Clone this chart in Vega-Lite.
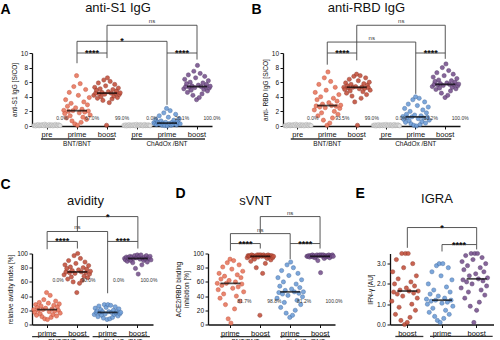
{
"$schema":"https://vega.github.io/schema/vega-lite/v6.json",
"background":"white",
"padding":{"left":0,"top":2,"right":0,"bottom":0},
"config":{
 "font":"Liberation Sans",
 "view":{"stroke":null},
 "axis":{"grid":false,"domainColor":"#111","domainWidth":1.3,"tickColor":"#111","tickWidth":1,"tickSize":3,"labelFontSize":6.5,"labelColor":"#111","titleFontSize":6.5,"titleFontWeight":"normal","titleColor":"#111","labelPadding":1.5,"titlePadding":3},
 "axisY":{"tickCount":6},
 "axisX":{"labelAngle":0,"labelFontSize":7.5,"titleFontSize":14,"titleFontWeight":"bold","titleColor":"#000","titleAlign":"left","titleBaseline":"top","titleAngle":0},
 "title":{"fontSize":13,"fontWeight":"normal","color":"#111","anchor":"middle","offset":2}
},
"datasets":{
"pts":[
{"p":"A","c":"B pre","v":0.05},{"p":"A","c":"B pre","v":0.1},{"p":"A","c":"B pre","v":0.0},{"p":"A","c":"B pre","v":0.15},{"p":"A","c":"B pre","v":0.08},{"p":"A","c":"B pre","v":0.2},{"p":"A","c":"B pre","v":0.02},{"p":"A","c":"B pre","v":0.12},{"p":"A","c":"B pre","v":0.06},{"p":"A","c":"B pre","v":0.18},{"p":"A","c":"B pre","v":0.1},{"p":"A","c":"B pre","v":0.03},{"p":"A","c":"B pre","v":0.25},{"p":"A","c":"B pre","v":0.07},{"p":"A","c":"B pre","v":0.14},{"p":"A","c":"B pre","v":0.0},{"p":"A","c":"B pre","v":0.09},{"p":"A","c":"B pre","v":0.2},{"p":"A","c":"B pre","v":0.04},{"p":"A","c":"B pre","v":0.11},{"p":"A","c":"B pre","v":0.16},{"p":"A","c":"B pre","v":0.01},{"p":"A","c":"B pre","v":0.13},{"p":"A","c":"B pre","v":0.06},{"p":"A","c":"B pre","v":0.22},{"p":"A","c":"B pre","v":0.08},{"p":"A","c":"B pre","v":0.03},{"p":"A","c":"B pre","v":0.17},{"p":"A","c":"B pre","v":0.1},{"p":"A","c":"B pre","v":0.05},
{"p":"A","c":"B prime","v":2.15},{"p":"A","c":"B prime","v":1.7},{"p":"A","c":"B prime","v":3.6},{"p":"A","c":"B prime","v":1.1},{"p":"A","c":"B prime","v":2.7},{"p":"A","c":"B prime","v":2.0},{"p":"A","c":"B prime","v":4.6},{"p":"A","c":"B prime","v":1.4},{"p":"A","c":"B prime","v":3.1},{"p":"A","c":"B prime","v":0.7},{"p":"A","c":"B prime","v":2.1},{"p":"A","c":"B prime","v":5.4},{"p":"A","c":"B prime","v":0.3},{"p":"A","c":"B prime","v":2.5},{"p":"A","c":"B prime","v":6.9},{"p":"A","c":"B prime","v":0.1},{"p":"A","c":"B prime","v":4.2},{"p":"A","c":"B prime","v":1.8},{"p":"A","c":"B prime","v":5.8},{"p":"A","c":"B prime","v":0.5},{"p":"A","c":"B prime","v":2.3},{"p":"A","c":"B prime","v":1.2},{"p":"A","c":"B prime","v":3.3},{"p":"A","c":"B prime","v":1.9},{"p":"A","c":"B prime","v":5.0},{"p":"A","c":"B prime","v":0.9},{"p":"A","c":"B prime","v":2.9},{"p":"A","c":"B prime","v":2.05},{"p":"A","c":"B prime","v":3.9},{"p":"A","c":"B prime","v":1.5},
{"p":"A","c":"B boost","v":4.2},{"p":"A","c":"B boost","v":5.3},{"p":"A","c":"B boost","v":4.5},{"p":"A","c":"B boost","v":4.9},{"p":"A","c":"B boost","v":3.8},{"p":"A","c":"B boost","v":5.9},{"p":"A","c":"B boost","v":4.4},{"p":"A","c":"B boost","v":5.1},{"p":"A","c":"B boost","v":4.0},{"p":"A","c":"B boost","v":4.6},{"p":"A","c":"B boost","v":3.5},{"p":"A","c":"B boost","v":6.3},{"p":"A","c":"B boost","v":4.35},{"p":"A","c":"B boost","v":5.5},{"p":"A","c":"B boost","v":0.1},{"p":"A","c":"B boost","v":6.6},{"p":"A","c":"B boost","v":4.7},{"p":"A","c":"B boost","v":3.2},{"p":"A","c":"B boost","v":6.1},{"p":"A","c":"B boost","v":4.5},{"p":"A","c":"B boost","v":3.7},{"p":"A","c":"B boost","v":5.0},{"p":"A","c":"B boost","v":4.1},{"p":"A","c":"B boost","v":5.7},{"p":"A","c":"B boost","v":4.45},{"p":"A","c":"B boost","v":4.8},{"p":"A","c":"B boost","v":3.9},{"p":"A","c":"B boost","v":5.2},{"p":"A","c":"B boost","v":4.3},{"p":"A","c":"B boost","v":4.55},
{"p":"A","c":"C pre","v":0.1},{"p":"A","c":"C pre","v":0.04},{"p":"A","c":"C pre","v":0.16},{"p":"A","c":"C pre","v":0.0},{"p":"A","c":"C pre","v":0.12},{"p":"A","c":"C pre","v":0.07},{"p":"A","c":"C pre","v":0.2},{"p":"A","c":"C pre","v":0.02},{"p":"A","c":"C pre","v":0.09},{"p":"A","c":"C pre","v":0.14},{"p":"A","c":"C pre","v":0.05},{"p":"A","c":"C pre","v":0.18},{"p":"A","c":"C pre","v":0.11},{"p":"A","c":"C pre","v":0.0},{"p":"A","c":"C pre","v":0.23},{"p":"A","c":"C pre","v":0.06},{"p":"A","c":"C pre","v":0.13},{"p":"A","c":"C pre","v":0.03},{"p":"A","c":"C pre","v":0.19},{"p":"A","c":"C pre","v":0.08},{"p":"A","c":"C pre","v":0.15},{"p":"A","c":"C pre","v":0.01},{"p":"A","c":"C pre","v":0.1},{"p":"A","c":"C pre","v":0.21},{"p":"A","c":"C pre","v":0.04},{"p":"A","c":"C pre","v":0.12},{"p":"A","c":"C pre","v":0.06},{"p":"A","c":"C pre","v":0.17},{"p":"A","c":"C pre","v":0.09},{"p":"A","c":"C pre","v":0.02},
{"p":"A","c":"C prime","v":0.45},{"p":"A","c":"C prime","v":0.3},{"p":"A","c":"C prime","v":0.9},{"p":"A","c":"C prime","v":0.2},{"p":"A","c":"C prime","v":0.55},{"p":"A","c":"C prime","v":0.4},{"p":"A","c":"C prime","v":1.4},{"p":"A","c":"C prime","v":0.25},{"p":"A","c":"C prime","v":0.7},{"p":"A","c":"C prime","v":0.1},{"p":"A","c":"C prime","v":0.4},{"p":"A","c":"C prime","v":1.8},{"p":"A","c":"C prime","v":0.05},{"p":"A","c":"C prime","v":0.5},{"p":"A","c":"C prime","v":2.4},{"p":"A","c":"C prime","v":0.0},{"p":"A","c":"C prime","v":1.2},{"p":"A","c":"C prime","v":0.35},{"p":"A","c":"C prime","v":2.1},{"p":"A","c":"C prime","v":0.1},{"p":"A","c":"C prime","v":0.5},{"p":"A","c":"C prime","v":0.2},{"p":"A","c":"C prime","v":0.8},{"p":"A","c":"C prime","v":0.35},{"p":"A","c":"C prime","v":1.6},{"p":"A","c":"C prime","v":0.15},{"p":"A","c":"C prime","v":0.6},{"p":"A","c":"C prime","v":0.4},{"p":"A","c":"C prime","v":1.0},{"p":"A","c":"C prime","v":0.3},
{"p":"A","c":"C boost","v":5.1},{"p":"A","c":"C boost","v":6.4},{"p":"A","c":"C boost","v":5.4},{"p":"A","c":"C boost","v":5.8},{"p":"A","c":"C boost","v":4.6},{"p":"A","c":"C boost","v":7.0},{"p":"A","c":"C boost","v":5.3},{"p":"A","c":"C boost","v":6.0},{"p":"A","c":"C boost","v":4.9},{"p":"A","c":"C boost","v":5.5},{"p":"A","c":"C boost","v":4.2},{"p":"A","c":"C boost","v":7.5},{"p":"A","c":"C boost","v":5.25},{"p":"A","c":"C boost","v":6.6},{"p":"A","c":"C boost","v":3.6},{"p":"A","c":"C boost","v":8.3},{"p":"A","c":"C boost","v":5.6},{"p":"A","c":"C boost","v":3.9},{"p":"A","c":"C boost","v":7.2},{"p":"A","c":"C boost","v":5.4},{"p":"A","c":"C boost","v":4.4},{"p":"A","c":"C boost","v":5.9},{"p":"A","c":"C boost","v":5.0},{"p":"A","c":"C boost","v":6.8},{"p":"A","c":"C boost","v":5.35},{"p":"A","c":"C boost","v":5.7},{"p":"A","c":"C boost","v":4.8},{"p":"A","c":"C boost","v":6.2},{"p":"A","c":"C boost","v":5.2},{"p":"A","c":"C boost","v":5.45},
{"p":"B","c":"B pre","v":0.05},{"p":"B","c":"B pre","v":0.1},{"p":"B","c":"B pre","v":0.0},{"p":"B","c":"B pre","v":0.15},{"p":"B","c":"B pre","v":0.08},{"p":"B","c":"B pre","v":0.2},{"p":"B","c":"B pre","v":0.02},{"p":"B","c":"B pre","v":0.12},{"p":"B","c":"B pre","v":0.06},{"p":"B","c":"B pre","v":0.18},{"p":"B","c":"B pre","v":0.1},{"p":"B","c":"B pre","v":0.03},{"p":"B","c":"B pre","v":0.25},{"p":"B","c":"B pre","v":0.07},{"p":"B","c":"B pre","v":0.14},{"p":"B","c":"B pre","v":0.0},{"p":"B","c":"B pre","v":0.09},{"p":"B","c":"B pre","v":0.2},{"p":"B","c":"B pre","v":0.04},{"p":"B","c":"B pre","v":0.11},{"p":"B","c":"B pre","v":0.16},{"p":"B","c":"B pre","v":0.01},{"p":"B","c":"B pre","v":0.13},{"p":"B","c":"B pre","v":0.06},{"p":"B","c":"B pre","v":0.22},{"p":"B","c":"B pre","v":0.08},{"p":"B","c":"B pre","v":0.03},{"p":"B","c":"B pre","v":0.17},{"p":"B","c":"B pre","v":0.1},{"p":"B","c":"B pre","v":0.05},
{"p":"B","c":"B prime","v":2.2},{"p":"B","c":"B prime","v":4.6},{"p":"B","c":"B prime","v":2.75},{"p":"B","c":"B prime","v":3.6},{"p":"B","c":"B prime","v":1.4},{"p":"B","c":"B prime","v":5.7},{"p":"B","c":"B prime","v":2.6},{"p":"B","c":"B prime","v":4.0},{"p":"B","c":"B prime","v":1.8},{"p":"B","c":"B prime","v":3.0},{"p":"B","c":"B prime","v":0.8},{"p":"B","c":"B prime","v":6.6},{"p":"B","c":"B prime","v":2.5},{"p":"B","c":"B prime","v":4.9},{"p":"B","c":"B prime","v":0.1},{"p":"B","c":"B prime","v":7.4},{"p":"B","c":"B prime","v":3.2},{"p":"B","c":"B prime","v":0.4},{"p":"B","c":"B prime","v":6.1},{"p":"B","c":"B prime","v":2.8},{"p":"B","c":"B prime","v":1.1},{"p":"B","c":"B prime","v":3.8},{"p":"B","c":"B prime","v":2.0},{"p":"B","c":"B prime","v":5.3},{"p":"B","c":"B prime","v":2.7},{"p":"B","c":"B prime","v":3.4},{"p":"B","c":"B prime","v":1.6},{"p":"B","c":"B prime","v":4.3},{"p":"B","c":"B prime","v":2.4},{"p":"B","c":"B prime","v":2.85},
{"p":"B","c":"B boost","v":5.3},{"p":"B","c":"B boost","v":5.0},{"p":"B","c":"B boost","v":5.9},{"p":"B","c":"B boost","v":4.5},{"p":"B","c":"B boost","v":5.5},{"p":"B","c":"B boost","v":5.2},{"p":"B","c":"B boost","v":6.4},{"p":"B","c":"B boost","v":4.8},{"p":"B","c":"B boost","v":5.7},{"p":"B","c":"B boost","v":4.1},{"p":"B","c":"B boost","v":5.3},{"p":"B","c":"B boost","v":6.8},{"p":"B","c":"B boost","v":3.3},{"p":"B","c":"B boost","v":5.4},{"p":"B","c":"B boost","v":7.1},{"p":"B","c":"B boost","v":0.1},{"p":"B","c":"B boost","v":6.2},{"p":"B","c":"B boost","v":5.1},{"p":"B","c":"B boost","v":6.9},{"p":"B","c":"B boost","v":3.8},{"p":"B","c":"B boost","v":5.35},{"p":"B","c":"B boost","v":4.7},{"p":"B","c":"B boost","v":5.8},{"p":"B","c":"B boost","v":5.15},{"p":"B","c":"B boost","v":6.6},{"p":"B","c":"B boost","v":4.3},{"p":"B","c":"B boost","v":5.6},{"p":"B","c":"B boost","v":5.25},{"p":"B","c":"B boost","v":6.0},{"p":"B","c":"B boost","v":4.9},
{"p":"B","c":"C pre","v":0.1},{"p":"B","c":"C pre","v":0.04},{"p":"B","c":"C pre","v":0.16},{"p":"B","c":"C pre","v":0.0},{"p":"B","c":"C pre","v":0.12},{"p":"B","c":"C pre","v":0.07},{"p":"B","c":"C pre","v":0.2},{"p":"B","c":"C pre","v":0.02},{"p":"B","c":"C pre","v":0.09},{"p":"B","c":"C pre","v":0.14},{"p":"B","c":"C pre","v":0.05},{"p":"B","c":"C pre","v":0.18},{"p":"B","c":"C pre","v":0.11},{"p":"B","c":"C pre","v":0.0},{"p":"B","c":"C pre","v":0.23},{"p":"B","c":"C pre","v":0.06},{"p":"B","c":"C pre","v":0.13},{"p":"B","c":"C pre","v":0.03},{"p":"B","c":"C pre","v":0.19},{"p":"B","c":"C pre","v":0.08},{"p":"B","c":"C pre","v":0.15},{"p":"B","c":"C pre","v":0.01},{"p":"B","c":"C pre","v":0.1},{"p":"B","c":"C pre","v":0.21},{"p":"B","c":"C pre","v":0.04},{"p":"B","c":"C pre","v":0.12},{"p":"B","c":"C pre","v":0.06},{"p":"B","c":"C pre","v":0.17},{"p":"B","c":"C pre","v":0.09},{"p":"B","c":"C pre","v":0.02},
{"p":"B","c":"C prime","v":1.3},{"p":"B","c":"C prime","v":0.9},{"p":"B","c":"C prime","v":2.4},{"p":"B","c":"C prime","v":0.5},{"p":"B","c":"C prime","v":1.6},{"p":"B","c":"C prime","v":1.15},{"p":"B","c":"C prime","v":3.0},{"p":"B","c":"C prime","v":0.7},{"p":"B","c":"C prime","v":2.0},{"p":"B","c":"C prime","v":0.3},{"p":"B","c":"C prime","v":1.25},{"p":"B","c":"C prime","v":3.6},{"p":"B","c":"C prime","v":0.1},{"p":"B","c":"C prime","v":1.5},{"p":"B","c":"C prime","v":4.0},{"p":"B","c":"C prime","v":0.0},{"p":"B","c":"C prime","v":2.8},{"p":"B","c":"C prime","v":1.0},{"p":"B","c":"C prime","v":3.8},{"p":"B","c":"C prime","v":0.2},{"p":"B","c":"C prime","v":1.4},{"p":"B","c":"C prime","v":0.6},{"p":"B","c":"C prime","v":2.2},{"p":"B","c":"C prime","v":1.1},{"p":"B","c":"C prime","v":3.3},{"p":"B","c":"C prime","v":0.4},{"p":"B","c":"C prime","v":1.8},{"p":"B","c":"C prime","v":1.2},{"p":"B","c":"C prime","v":2.6},{"p":"B","c":"C prime","v":0.8},
{"p":"B","c":"C boost","v":5.4},{"p":"B","c":"C boost","v":6.7},{"p":"B","c":"C boost","v":5.7},{"p":"B","c":"C boost","v":6.1},{"p":"B","c":"C boost","v":5.0},{"p":"B","c":"C boost","v":7.3},{"p":"B","c":"C boost","v":5.6},{"p":"B","c":"C boost","v":6.3},{"p":"B","c":"C boost","v":5.2},{"p":"B","c":"C boost","v":5.8},{"p":"B","c":"C boost","v":4.5},{"p":"B","c":"C boost","v":8.0},{"p":"B","c":"C boost","v":5.55},{"p":"B","c":"C boost","v":6.9},{"p":"B","c":"C boost","v":3.9},{"p":"B","c":"C boost","v":8.5},{"p":"B","c":"C boost","v":5.9},{"p":"B","c":"C boost","v":4.2},{"p":"B","c":"C boost","v":7.6},{"p":"B","c":"C boost","v":5.7},{"p":"B","c":"C boost","v":4.8},{"p":"B","c":"C boost","v":6.2},{"p":"B","c":"C boost","v":5.3},{"p":"B","c":"C boost","v":7.1},{"p":"B","c":"C boost","v":5.65},{"p":"B","c":"C boost","v":6.0},{"p":"B","c":"C boost","v":5.1},{"p":"B","c":"C boost","v":6.5},{"p":"B","c":"C boost","v":5.5},{"p":"B","c":"C boost","v":5.75},
{"p":"C","c":"B prime","v":21},{"p":"C","c":"B prime","v":17},{"p":"C","c":"B prime","v":28},{"p":"C","c":"B prime","v":13},{"p":"C","c":"B prime","v":24},{"p":"C","c":"B prime","v":20},{"p":"C","c":"B prime","v":31},{"p":"C","c":"B prime","v":15},{"p":"C","c":"B prime","v":26},{"p":"C","c":"B prime","v":11},{"p":"C","c":"B prime","v":21},{"p":"C","c":"B prime","v":35},{"p":"C","c":"B prime","v":8},{"p":"C","c":"B prime","v":23},{"p":"C","c":"B prime","v":45},{"p":"C","c":"B prime","v":7},{"p":"C","c":"B prime","v":30},{"p":"C","c":"B prime","v":18},{"p":"C","c":"B prime","v":41},{"p":"C","c":"B prime","v":10},{"p":"C","c":"B prime","v":22},{"p":"C","c":"B prime","v":14},{"p":"C","c":"B prime","v":27},{"p":"C","c":"B prime","v":19},{"p":"C","c":"B prime","v":33},{"p":"C","c":"B prime","v":12},{"p":"C","c":"B prime","v":25},{"p":"C","c":"B prime","v":20},{"p":"C","c":"B prime","v":29},{"p":"C","c":"B prime","v":16},
{"p":"C","c":"B boost","v":70},{"p":"C","c":"B boost","v":84},{"p":"C","c":"B boost","v":74},{"p":"C","c":"B boost","v":79},{"p":"C","c":"B boost","v":64},{"p":"C","c":"B boost","v":90},{"p":"C","c":"B boost","v":73},{"p":"C","c":"B boost","v":81},{"p":"C","c":"B boost","v":67},{"p":"C","c":"B boost","v":76},{"p":"C","c":"B boost","v":60},{"p":"C","c":"B boost","v":97},{"p":"C","c":"B boost","v":72},{"p":"C","c":"B boost","v":86},{"p":"C","c":"B boost","v":45},{"p":"C","c":"B boost","v":100},{"p":"C","c":"B boost","v":77},{"p":"C","c":"B boost","v":58},{"p":"C","c":"B boost","v":93},{"p":"C","c":"B boost","v":74},{"p":"C","c":"B boost","v":62},{"p":"C","c":"B boost","v":80},{"p":"C","c":"B boost","v":68},{"p":"C","c":"B boost","v":88},{"p":"C","c":"B boost","v":73},{"p":"C","c":"B boost","v":78},{"p":"C","c":"B boost","v":66},{"p":"C","c":"B boost","v":83},{"p":"C","c":"B boost","v":71},{"p":"C","c":"B boost","v":75},
{"p":"C","c":"C prime","v":14},{"p":"C","c":"C prime","v":23},{"p":"C","c":"C prime","v":17},{"p":"C","c":"C prime","v":19},{"p":"C","c":"C prime","v":11},{"p":"C","c":"C prime","v":26},{"p":"C","c":"C prime","v":16},{"p":"C","c":"C prime","v":21},{"p":"C","c":"C prime","v":13},{"p":"C","c":"C prime","v":18},{"p":"C","c":"C prime","v":9},{"p":"C","c":"C prime","v":28},{"p":"C","c":"C prime","v":15},{"p":"C","c":"C prime","v":24},{"p":"C","c":"C prime","v":7},{"p":"C","c":"C prime","v":28},{"p":"C","c":"C prime","v":18},{"p":"C","c":"C prime","v":8},{"p":"C","c":"C prime","v":27},{"p":"C","c":"C prime","v":17},{"p":"C","c":"C prime","v":10},{"p":"C","c":"C prime","v":20},{"p":"C","c":"C prime","v":14},{"p":"C","c":"C prime","v":25},{"p":"C","c":"C prime","v":16},{"p":"C","c":"C prime","v":19},{"p":"C","c":"C prime","v":12},{"p":"C","c":"C prime","v":22},{"p":"C","c":"C prime","v":15},{"p":"C","c":"C prime","v":17},
{"p":"C","c":"C boost","v":93},{"p":"C","c":"C boost","v":91},{"p":"C","c":"C boost","v":95},{"p":"C","c":"C boost","v":89},{"p":"C","c":"C boost","v":94},{"p":"C","c":"C boost","v":92},{"p":"C","c":"C boost","v":96},{"p":"C","c":"C boost","v":90},{"p":"C","c":"C boost","v":95},{"p":"C","c":"C boost","v":87},{"p":"C","c":"C boost","v":93},{"p":"C","c":"C boost","v":97},{"p":"C","c":"C boost","v":79},{"p":"C","c":"C boost","v":94},{"p":"C","c":"C boost","v":98},{"p":"C","c":"C boost","v":71},{"p":"C","c":"C boost","v":96},{"p":"C","c":"C boost","v":92},{"p":"C","c":"C boost","v":98},{"p":"C","c":"C boost","v":84},{"p":"C","c":"C boost","v":93},{"p":"C","c":"C boost","v":90},{"p":"C","c":"C boost","v":95},{"p":"C","c":"C boost","v":92},{"p":"C","c":"C boost","v":97},{"p":"C","c":"C boost","v":88},{"p":"C","c":"C boost","v":94},{"p":"C","c":"C boost","v":93},{"p":"C","c":"C boost","v":96},{"p":"C","c":"C boost","v":91},
{"p":"D","c":"B prime","v":58},{"p":"D","c":"B prime","v":49},{"p":"D","c":"B prime","v":72},{"p":"D","c":"B prime","v":37},{"p":"D","c":"B prime","v":64},{"p":"D","c":"B prime","v":55},{"p":"D","c":"B prime","v":81},{"p":"D","c":"B prime","v":43},{"p":"D","c":"B prime","v":68},{"p":"D","c":"B prime","v":28},{"p":"D","c":"B prime","v":58},{"p":"D","c":"B prime","v":87},{"p":"D","c":"B prime","v":8},{"p":"D","c":"B prime","v":62},{"p":"D","c":"B prime","v":92},{"p":"D","c":"B prime","v":2},{"p":"D","c":"B prime","v":78},{"p":"D","c":"B prime","v":51},{"p":"D","c":"B prime","v":90},{"p":"D","c":"B prime","v":22},{"p":"D","c":"B prime","v":60},{"p":"D","c":"B prime","v":40},{"p":"D","c":"B prime","v":70},{"p":"D","c":"B prime","v":53},{"p":"D","c":"B prime","v":84},{"p":"D","c":"B prime","v":33},{"p":"D","c":"B prime","v":66},{"p":"D","c":"B prime","v":57},{"p":"D","c":"B prime","v":75},{"p":"D","c":"B prime","v":46},
{"p":"D","c":"B boost","v":94},{"p":"D","c":"B boost","v":97},{"p":"D","c":"B boost","v":96},{"p":"D","c":"B boost","v":97},{"p":"D","c":"B boost","v":89},{"p":"D","c":"B boost","v":98},{"p":"D","c":"B boost","v":95},{"p":"D","c":"B boost","v":97},{"p":"D","c":"B boost","v":92},{"p":"D","c":"B boost","v":96},{"p":"D","c":"B boost","v":80},{"p":"D","c":"B boost","v":98},{"p":"D","c":"B boost","v":95},{"p":"D","c":"B boost","v":98},{"p":"D","c":"B boost","v":13},{"p":"D","c":"B boost","v":98},{"p":"D","c":"B boost","v":96},{"p":"D","c":"B boost","v":72},{"p":"D","c":"B boost","v":98},{"p":"D","c":"B boost","v":96},{"p":"D","c":"B boost","v":86},{"p":"D","c":"B boost","v":97},{"p":"D","c":"B boost","v":93},{"p":"D","c":"B boost","v":98},{"p":"D","c":"B boost","v":95},{"p":"D","c":"B boost","v":97},{"p":"D","c":"B boost","v":91},{"p":"D","c":"B boost","v":97},{"p":"D","c":"B boost","v":94},{"p":"D","c":"B boost","v":96},
{"p":"D","c":"C prime","v":37},{"p":"D","c":"C prime","v":66},{"p":"D","c":"C prime","v":45},{"p":"D","c":"C prime","v":54},{"p":"D","c":"C prime","v":24},{"p":"D","c":"C prime","v":76},{"p":"D","c":"C prime","v":43},{"p":"D","c":"C prime","v":60},{"p":"D","c":"C prime","v":31},{"p":"D","c":"C prime","v":48},{"p":"D","c":"C prime","v":16},{"p":"D","c":"C prime","v":84},{"p":"D","c":"C prime","v":41},{"p":"D","c":"C prime","v":69},{"p":"D","c":"C prime","v":10},{"p":"D","c":"C prime","v":88},{"p":"D","c":"C prime","v":50},{"p":"D","c":"C prime","v":13},{"p":"D","c":"C prime","v":80},{"p":"D","c":"C prime","v":46},{"p":"D","c":"C prime","v":20},{"p":"D","c":"C prime","v":57},{"p":"D","c":"C prime","v":34},{"p":"D","c":"C prime","v":72},{"p":"D","c":"C prime","v":44},{"p":"D","c":"C prime","v":52},{"p":"D","c":"C prime","v":28},{"p":"D","c":"C prime","v":63},{"p":"D","c":"C prime","v":39},{"p":"D","c":"C prime","v":46},
{"p":"D","c":"C boost","v":96},{"p":"D","c":"C boost","v":96},{"p":"D","c":"C boost","v":97},{"p":"D","c":"C boost","v":95},{"p":"D","c":"C boost","v":97},{"p":"D","c":"C boost","v":96},{"p":"D","c":"C boost","v":98},{"p":"D","c":"C boost","v":95},{"p":"D","c":"C boost","v":97},{"p":"D","c":"C boost","v":94},{"p":"D","c":"C boost","v":96},{"p":"D","c":"C boost","v":98},{"p":"D","c":"C boost","v":90},{"p":"D","c":"C boost","v":97},{"p":"D","c":"C boost","v":98},{"p":"D","c":"C boost","v":73},{"p":"D","c":"C boost","v":98},{"p":"D","c":"C boost","v":96},{"p":"D","c":"C boost","v":98},{"p":"D","c":"C boost","v":93},{"p":"D","c":"C boost","v":97},{"p":"D","c":"C boost","v":95},{"p":"D","c":"C boost","v":97},{"p":"D","c":"C boost","v":96},{"p":"D","c":"C boost","v":98},{"p":"D","c":"C boost","v":94},{"p":"D","c":"C boost","v":97},{"p":"D","c":"C boost","v":96},{"p":"D","c":"C boost","v":98},{"p":"D","c":"C boost","v":96},
{"p":"E","c":"B boost","v":1.15},{"p":"E","c":"B boost","v":2.6},{"p":"E","c":"B boost","v":1.6},{"p":"E","c":"B boost","v":2.0},{"p":"E","c":"B boost","v":0.5},{"p":"E","c":"B boost","v":3.2},{"p":"E","c":"B boost","v":1.5},{"p":"E","c":"B boost","v":2.25},{"p":"E","c":"B boost","v":0.85},{"p":"E","c":"B boost","v":1.7},{"p":"E","c":"B boost","v":0.2},{"p":"E","c":"B boost","v":3.5},{"p":"E","c":"B boost","v":1.4},{"p":"E","c":"B boost","v":2.8},{"p":"E","c":"B boost","v":0.0},{"p":"E","c":"B boost","v":3.5},{"p":"E","c":"B boost","v":1.8},{"p":"E","c":"B boost","v":0.1},{"p":"E","c":"B boost","v":3.5},{"p":"E","c":"B boost","v":1.65},{"p":"E","c":"B boost","v":0.35},{"p":"E","c":"B boost","v":2.1},{"p":"E","c":"B boost","v":1.0},{"p":"E","c":"B boost","v":3.0},{"p":"E","c":"B boost","v":1.55},{"p":"E","c":"B boost","v":1.9},{"p":"E","c":"B boost","v":0.7},{"p":"E","c":"B boost","v":2.4},{"p":"E","c":"B boost","v":1.3},{"p":"E","c":"B boost","v":1.65},
{"p":"E","c":"C prime","v":1.25},{"p":"E","c":"C prime","v":1.0},{"p":"E","c":"C prime","v":2.0},{"p":"E","c":"C prime","v":0.6},{"p":"E","c":"C prime","v":1.5},{"p":"E","c":"C prime","v":1.15},{"p":"E","c":"C prime","v":2.6},{"p":"E","c":"C prime","v":0.8},{"p":"E","c":"C prime","v":1.7},{"p":"E","c":"C prime","v":0.4},{"p":"E","c":"C prime","v":1.2},{"p":"E","c":"C prime","v":2.9},{"p":"E","c":"C prime","v":0.2},{"p":"E","c":"C prime","v":1.4},{"p":"E","c":"C prime","v":3.0},{"p":"E","c":"C prime","v":0.1},{"p":"E","c":"C prime","v":2.4},{"p":"E","c":"C prime","v":1.05},{"p":"E","c":"C prime","v":3.0},{"p":"E","c":"C prime","v":0.3},{"p":"E","c":"C prime","v":1.3},{"p":"E","c":"C prime","v":0.7},{"p":"E","c":"C prime","v":1.85},{"p":"E","c":"C prime","v":1.1},{"p":"E","c":"C prime","v":2.8},{"p":"E","c":"C prime","v":0.5},{"p":"E","c":"C prime","v":1.6},{"p":"E","c":"C prime","v":1.2},{"p":"E","c":"C prime","v":2.2},{"p":"E","c":"C prime","v":0.9},
{"p":"E","c":"C boost","v":1.8},{"p":"E","c":"C boost","v":3.1},{"p":"E","c":"C boost","v":2.2},{"p":"E","c":"C boost","v":2.7},{"p":"E","c":"C boost","v":1.3},{"p":"E","c":"C boost","v":3.4},{"p":"E","c":"C boost","v":2.1},{"p":"E","c":"C boost","v":2.9},{"p":"E","c":"C boost","v":1.6},{"p":"E","c":"C boost","v":2.4},{"p":"E","c":"C boost","v":0.9},{"p":"E","c":"C boost","v":3.5},{"p":"E","c":"C boost","v":2.0},{"p":"E","c":"C boost","v":3.2},{"p":"E","c":"C boost","v":0.1},{"p":"E","c":"C boost","v":3.5},{"p":"E","c":"C boost","v":2.5},{"p":"E","c":"C boost","v":0.7},{"p":"E","c":"C boost","v":3.5},{"p":"E","c":"C boost","v":2.25},{"p":"E","c":"C boost","v":1.1},{"p":"E","c":"C boost","v":2.8},{"p":"E","c":"C boost","v":1.7},{"p":"E","c":"C boost","v":3.3},{"p":"E","c":"C boost","v":2.15},{"p":"E","c":"C boost","v":2.6},{"p":"E","c":"C boost","v":1.45},{"p":"E","c":"C boost","v":3.0},{"p":"E","c":"C boost","v":1.9},{"p":"E","c":"C boost","v":2.3}
],
"med":[
{"p":"A","c":"B prime","v":2.1},{"p":"A","c":"B boost","v":4.5},{"p":"A","c":"C prime","v":0.4},{"p":"A","c":"C boost","v":5.4},
{"p":"B","c":"B prime","v":2.8},{"p":"B","c":"B boost","v":5.3},{"p":"B","c":"C prime","v":1.25},{"p":"B","c":"C boost","v":5.7},
{"p":"C","c":"B prime","v":21},{"p":"C","c":"B boost","v":74},{"p":"C","c":"C prime","v":17},{"p":"C","c":"C boost","v":93},
{"p":"D","c":"B prime","v":58},{"p":"D","c":"B boost","v":96},{"p":"D","c":"C prime","v":46},{"p":"D","c":"C boost","v":96},
{"p":"E","c":"B boost","v":1.65},{"p":"E","c":"C prime","v":1.2},{"p":"E","c":"C boost","v":2.25}
],
"pct":[
{"p":"A","c":"B pre","t":"0.0%"},{"p":"A","c":"B prime","t":"67.0%"},{"p":"A","c":"B boost","t":"99.0%"},{"p":"A","c":"C pre","t":"0.0%"},{"p":"A","c":"C prime","t":"26.1%"},{"p":"A","c":"C boost","t":"100.0%"},
{"p":"B","c":"B pre","t":"0.0%"},{"p":"B","c":"B prime","t":"93.5%"},{"p":"B","c":"B boost","t":"99.0%"},{"p":"B","c":"C pre","t":"0.0%"},{"p":"B","c":"C prime","t":"63.2%"},{"p":"B","c":"C boost","t":"100.0%"},
{"p":"C","c":"B prime","t":"0.0%"},{"p":"C","c":"B boost","t":"90.0%"},{"p":"C","c":"C prime","t":"0.0%"},{"p":"C","c":"C boost","t":"100.0%"},
{"p":"D","c":"B prime","t":"81.7%"},{"p":"D","c":"B boost","t":"98.8%"},{"p":"D","c":"C prime","t":"81.2%"},{"p":"D","c":"C boost","t":"100.0%"}
],
"brk":[
{"p":"A","a":"B prime","b":"B boost","y":10,"ya":8.6,"yb":9.3,"t":"****","m":"B prime"},
{"p":"A","a":"C prime","b":"C boost","y":10,"ya":10,"yb":9.1,"t":"****","m":"C prime"},
{"p":"A","a":"B prime","b":"C prime","y":11.6,"ya":10,"yb":2.9,"t":"*","m":"B boost"},
{"p":"A","a":"B boost","b":"C boost","y":13.8,"ya":10,"yb":10,"t":"ns","m":"C pre"},
{"p":"B","a":"B prime","b":"B boost","y":10,"ya":8.4,"yb":9.0,"t":"****","m":"B prime"},
{"p":"B","a":"C prime","b":"C boost","y":10,"ya":10,"yb":9.2,"t":"****","m":"C prime"},
{"p":"B","a":"B prime","b":"C prime","y":11.5,"ya":10,"yb":4.4,"t":"ns","m":"B boost"},
{"p":"B","a":"B boost","b":"C boost","y":13.8,"ya":10,"yb":10,"t":"ns","m":"C pre"},
{"p":"C","a":"B prime","b":"B boost","y":117,"ya":106,"yb":107,"t":"****","m":"B prime"},
{"p":"C","a":"C prime","b":"C boost","y":117,"ya":117,"yb":107,"t":"****","m":"C prime"},
{"p":"C","a":"B prime","b":"C prime","y":131,"ya":117,"yb":44,"t":"ns","m":"B boost"},
{"p":"C","a":"B boost","b":"C boost","y":152,"ya":131,"yb":117,"t":"*","m":"C prime"},
{"p":"D","a":"B prime","b":"B boost","y":114,"ya":104,"yb":107,"t":"****","m":"B prime"},
{"p":"D","a":"C prime","b":"C boost","y":114,"ya":114,"yb":107,"t":"****","m":"C prime"},
{"p":"D","a":"B prime","b":"C prime","y":128,"ya":114,"yb":92,"t":"ns","m":"B boost"},
{"p":"D","a":"B boost","b":"C boost","y":152,"ya":128,"yb":114,"t":"ns","m":"C prime"},
{"p":"E","a":"B boost","b":"C boost","y":4.78,"ya":3.78,"yb":3.94,"t":"*","m":"C prime"},
{"p":"E","a":"C prime","b":"C boost","y":3.94,"ya":3.6,"yb":3.7,"t":"****","m":"C prime"}
],
"grp":[
{"p":"A","a":"B pre","b":"B boost","m":"B prime","t":"BNT/BNT"},{"p":"A","a":"C pre","b":"C boost","m":"C prime","t":"ChAdOx /BNT"},
{"p":"B","a":"B pre","b":"B boost","m":"B prime","t":"BNT/BNT"},{"p":"B","a":"C pre","b":"C boost","m":"C prime","t":"ChAdOx /BNT"},
{"p":"C","a":"B prime","b":"B boost","m":"B prime","t":"BNT/BNT"},{"p":"C","a":"C prime","b":"C boost","m":"C prime","t":"ChAdOx/BNT"},
{"p":"D","a":"B prime","b":"B boost","m":"B prime","t":"BNT/BNT"},{"p":"D","a":"C prime","b":"C boost","m":"C prime","t":"ChAdOx/BNT"},
{"p":"E","a":"B boost","b":"B boost","m":"B boost","t":"BNT/BNT"},{"p":"E","a":"C prime","b":"C boost","m":"C prime","t":"ChAdOx/BNT"}
]
},
"vconcat":[
{"hconcat":[
{"width":180,"height":73,"title":{"text":"anti-S1 IgG","dx":-4,"dy":15},
 "layer":[
 {"data":{"name":"pts"},"transform":[{"filter":"datum.p=='A'"},{"window":[{"op":"row_number","as":"i"}],"groupby":["c"]}],
  "mark":{"type":"circle","size":18,"opacity":0.9,"strokeWidth":0.5},
  "encoding":{
   "x":{"field":"c","type":"nominal","scale":{"domain":["B pre","B prime","B boost","C pre","C prime","C boost"],"paddingInner":0,"paddingOuter":0},"axis":{"labelExpr":"slice(datum.label,2)","title":"A","titleX":-32,"titleY":-124}},
   "xOffset":{"field":"i","type":"quantitative","scale":{"domain":[-1,32]}},
   "y":{"field":"v","type":"quantitative","scale":{"domain":[0,10]},"axis":{"values":[0,2,4,6,8,10],"title":"anti-S1 IgG [S/CO]"}},
   "fill":{"field":"c","type":"nominal","scale":{"domain":["B pre","B prime","B boost","C pre","C prime","C boost"],"range":["#e2e2e2","#e8785f","#c4533f","#e2e2e2","#6e9ed8","#7a5590"]},"legend":null},
   "stroke":{"field":"c","type":"nominal","scale":{"domain":["B pre","B prime","B boost","C pre","C prime","C boost"],"range":["#a8a8a8","#c24a33","#8f3426","#a8a8a8","#40689f","#4f3463"]},"legend":null}}},
 {"mark":{"type":"rule","strokeDash":[1,1.5],"color":"#555","strokeWidth":0.7},"encoding":{"y":{"datum":1,"type":"quantitative","scale":{"domain":[0,10]}}}},
 {"data":{"name":"med"},"transform":[{"filter":"datum.p=='A'"}],"mark":{"type":"tick","size":20,"thickness":1.8,"color":"#000"},
  "encoding":{"x":{"field":"c","type":"nominal","scale":{"domain":["B pre","B prime","B boost","C pre","C prime","C boost"]}},"y":{"field":"v","type":"quantitative","scale":{"domain":[0,10]}}}},
 {"data":{"name":"brk"},"transform":[{"filter":"datum.p=='A'"}],"mark":{"type":"rule","color":"#444","strokeWidth":0.9},
  "encoding":{"x":{"field":"a","type":"nominal","scale":{"domain":["B pre","B prime","B boost","C pre","C prime","C boost"]}},"x2":{"field":"b"},"y":{"field":"y","type":"quantitative","scale":{"domain":[0,10]}}}},
 {"data":{"name":"brk"},"transform":[{"filter":"datum.p=='A'"}],"mark":{"type":"rule","color":"#444","strokeWidth":0.9},
  "encoding":{"x":{"field":"a","type":"nominal","scale":{"domain":["B pre","B prime","B boost","C pre","C prime","C boost"]}},"y":{"field":"y","type":"quantitative","scale":{"domain":[0,10]}},"y2":{"field":"ya"}}},
 {"data":{"name":"brk"},"transform":[{"filter":"datum.p=='A'"}],"mark":{"type":"rule","color":"#444","strokeWidth":0.9},
  "encoding":{"x":{"field":"b","type":"nominal","scale":{"domain":["B pre","B prime","B boost","C pre","C prime","C boost"]}},"y":{"field":"y","type":"quantitative","scale":{"domain":[0,10]}},"y2":{"field":"yb"}}},
 {"data":{"name":"brk"},"transform":[{"filter":"datum.p=='A' && datum.t!='ns'"}],"mark":{"type":"text","dx":15,"dy":3,"fontSize":9,"fontWeight":"bold","baseline":"alphabetic","color":"#111"},
  "encoding":{"x":{"field":"m","type":"nominal","scale":{"domain":["B pre","B prime","B boost","C pre","C prime","C boost"]}},"y":{"field":"y","type":"quantitative","scale":{"domain":[0,10]}},"text":{"field":"t"}}},
 {"data":{"name":"brk"},"transform":[{"filter":"datum.p=='A' && datum.t=='ns'"}],"mark":{"type":"text","dx":15,"dy":-2,"fontSize":6,"baseline":"alphabetic","color":"#333"},
  "encoding":{"x":{"field":"m","type":"nominal","scale":{"domain":["B pre","B prime","B boost","C pre","C prime","C boost"]}},"y":{"field":"y","type":"quantitative","scale":{"domain":[0,10]}},"text":{"field":"t"}}},
 {"data":{"name":"pct"},"transform":[{"filter":"datum.p=='A'"}],"mark":{"type":"text","dx":15,"dy":-1,"fontSize":5,"baseline":"middle","color":"#333"},
  "encoding":{"x":{"field":"c","type":"nominal","scale":{"domain":["B pre","B prime","B boost","C pre","C prime","C boost"]}},"y":{"datum":1,"type":"quantitative","scale":{"domain":[0,10]}},"text":{"field":"t"}}},
 {"mark":{"type":"text","text":"reactive","dx":17,"align":"left","baseline":"middle","fontSize":4.5,"color":"#333"},
  "encoding":{"x":{"datum":"C boost","type":"nominal","scale":{"domain":["B pre","B prime","B boost","C pre","C prime","C boost"]}},"y":{"datum":1,"type":"quantitative","scale":{"domain":[0,10]}}}},
 {"data":{"name":"grp"},"transform":[{"filter":"datum.p=='A'"}],"mark":{"type":"rule","xOffset":-6,"x2Offset":8,"strokeWidth":1.3,"color":"#333"},
  "encoding":{"x":{"field":"a","type":"nominal","scale":{"domain":["B pre","B prime","B boost","C pre","C prime","C boost"]}},"x2":{"field":"b"},"y":{"datum":-1.78,"type":"quantitative","scale":{"domain":[0,10]}}}},
 {"data":{"name":"grp"},"transform":[{"filter":"datum.p=='A'"}],"mark":{"type":"text","fontSize":6.5,"baseline":"top","color":"#111"},
  "encoding":{"x":{"field":"m","type":"nominal","scale":{"domain":["B pre","B prime","B boost","C pre","C prime","C boost"]}},"y":{"datum":-2.05,"type":"quantitative","scale":{"domain":[0,10]}},"text":{"field":"t"}}}
 ]},
{"width":177,"height":73,"title":{"text":"anti-RBD IgG","dx":-5,"dy":15},
 "layer":[
 {"data":{"name":"pts"},"transform":[{"filter":"datum.p=='B'"},{"window":[{"op":"row_number","as":"i"}],"groupby":["c"]}],
  "mark":{"type":"circle","size":18,"opacity":0.9,"strokeWidth":0.5},
  "encoding":{
   "x":{"field":"c","type":"nominal","scale":{"domain":["B pre","B prime","B boost","C pre","C prime","C boost"],"paddingInner":0,"paddingOuter":0},"axis":{"labelExpr":"slice(datum.label,2)","title":"B","titleX":-32,"titleY":-124}},
   "xOffset":{"field":"i","type":"quantitative","scale":{"domain":[-1,32]}},
   "y":{"field":"v","type":"quantitative","scale":{"domain":[0,10]},"axis":{"values":[0,2,4,6,8,10],"title":"anti- RBD IgG [S/CO]"}},
   "fill":{"field":"c","type":"nominal","scale":{"domain":["B pre","B prime","B boost","C pre","C prime","C boost"],"range":["#e2e2e2","#e8785f","#c4533f","#e2e2e2","#6e9ed8","#7a5590"]},"legend":null},
   "stroke":{"field":"c","type":"nominal","scale":{"domain":["B pre","B prime","B boost","C pre","C prime","C boost"],"range":["#a8a8a8","#c24a33","#8f3426","#a8a8a8","#40689f","#4f3463"]},"legend":null}}},
 {"mark":{"type":"rule","strokeDash":[1,1.5],"color":"#555","strokeWidth":0.7},"encoding":{"y":{"datum":1,"type":"quantitative","scale":{"domain":[0,10]}}}},
 {"data":{"name":"med"},"transform":[{"filter":"datum.p=='B'"}],"mark":{"type":"tick","size":20,"thickness":1.8,"color":"#000"},
  "encoding":{"x":{"field":"c","type":"nominal","scale":{"domain":["B pre","B prime","B boost","C pre","C prime","C boost"]}},"y":{"field":"v","type":"quantitative","scale":{"domain":[0,10]}}}},
 {"data":{"name":"brk"},"transform":[{"filter":"datum.p=='B'"}],"mark":{"type":"rule","color":"#444","strokeWidth":0.9},
  "encoding":{"x":{"field":"a","type":"nominal","scale":{"domain":["B pre","B prime","B boost","C pre","C prime","C boost"]}},"x2":{"field":"b"},"y":{"field":"y","type":"quantitative","scale":{"domain":[0,10]}}}},
 {"data":{"name":"brk"},"transform":[{"filter":"datum.p=='B'"}],"mark":{"type":"rule","color":"#444","strokeWidth":0.9},
  "encoding":{"x":{"field":"a","type":"nominal","scale":{"domain":["B pre","B prime","B boost","C pre","C prime","C boost"]}},"y":{"field":"y","type":"quantitative","scale":{"domain":[0,10]}},"y2":{"field":"ya"}}},
 {"data":{"name":"brk"},"transform":[{"filter":"datum.p=='B'"}],"mark":{"type":"rule","color":"#444","strokeWidth":0.9},
  "encoding":{"x":{"field":"b","type":"nominal","scale":{"domain":["B pre","B prime","B boost","C pre","C prime","C boost"]}},"y":{"field":"y","type":"quantitative","scale":{"domain":[0,10]}},"y2":{"field":"yb"}}},
 {"data":{"name":"brk"},"transform":[{"filter":"datum.p=='B' && datum.t!='ns'"}],"mark":{"type":"text","dx":15,"dy":3,"fontSize":9,"fontWeight":"bold","baseline":"alphabetic","color":"#111"},
  "encoding":{"x":{"field":"m","type":"nominal","scale":{"domain":["B pre","B prime","B boost","C pre","C prime","C boost"]}},"y":{"field":"y","type":"quantitative","scale":{"domain":[0,10]}},"text":{"field":"t"}}},
 {"data":{"name":"brk"},"transform":[{"filter":"datum.p=='B' && datum.t=='ns'"}],"mark":{"type":"text","dx":15,"dy":-2,"fontSize":6,"baseline":"alphabetic","color":"#333"},
  "encoding":{"x":{"field":"m","type":"nominal","scale":{"domain":["B pre","B prime","B boost","C pre","C prime","C boost"]}},"y":{"field":"y","type":"quantitative","scale":{"domain":[0,10]}},"text":{"field":"t"}}},
 {"data":{"name":"pct"},"transform":[{"filter":"datum.p=='B'"}],"mark":{"type":"text","dx":15,"dy":-1,"fontSize":5,"baseline":"middle","color":"#333"},
  "encoding":{"x":{"field":"c","type":"nominal","scale":{"domain":["B pre","B prime","B boost","C pre","C prime","C boost"]}},"y":{"datum":1,"type":"quantitative","scale":{"domain":[0,10]}},"text":{"field":"t"}}},
 {"mark":{"type":"text","text":"reactive","dx":17,"align":"left","baseline":"middle","fontSize":4.5,"color":"#333"},
  "encoding":{"x":{"datum":"C boost","type":"nominal","scale":{"domain":["B pre","B prime","B boost","C pre","C prime","C boost"]}},"y":{"datum":1,"type":"quantitative","scale":{"domain":[0,10]}}}},
 {"data":{"name":"grp"},"transform":[{"filter":"datum.p=='B'"}],"mark":{"type":"rule","xOffset":-7,"x2Offset":6,"strokeWidth":1.3,"color":"#333"},
  "encoding":{"x":{"field":"a","type":"nominal","scale":{"domain":["B pre","B prime","B boost","C pre","C prime","C boost"]}},"x2":{"field":"b"},"y":{"datum":-1.78,"type":"quantitative","scale":{"domain":[0,10]}}}},
 {"data":{"name":"grp"},"transform":[{"filter":"datum.p=='B'"}],"mark":{"type":"text","fontSize":6.5,"baseline":"top","color":"#111"},
  "encoding":{"x":{"field":"m","type":"nominal","scale":{"domain":["B pre","B prime","B boost","C pre","C prime","C boost"]}},"y":{"datum":-2.05,"type":"quantitative","scale":{"domain":[0,10]}},"text":{"field":"t"}}}
 ]}
],"spacing":71,"bounds":"flush"},
{"hconcat":[
{"width":121,"height":71,"title":{"text":"avidity","dx":-7,"dy":32},
 "layer":[
 {"data":{"name":"pts"},"transform":[{"filter":"datum.p=='C'"},{"window":[{"op":"row_number","as":"i"}],"groupby":["c"]}],
  "mark":{"type":"circle","size":18,"opacity":0.9,"strokeWidth":0.5},
  "encoding":{
   "x":{"field":"c","type":"nominal","scale":{"domain":["B prime","B boost","C prime","C boost"],"paddingInner":0,"paddingOuter":0},"axis":{"labelExpr":"slice(datum.label,2)","title":"C","titleX":-32,"titleY":-147}},
   "xOffset":{"field":"i","type":"quantitative","scale":{"domain":[-1,32]}},
   "y":{"field":"v","type":"quantitative","scale":{"domain":[0,100]},"axis":{"values":[0,20,40,60,80,100],"title":"relative avidity index [%]"}},
   "fill":{"field":"c","type":"nominal","scale":{"domain":["B pre","B prime","B boost","C pre","C prime","C boost"],"range":["#e2e2e2","#e8785f","#c4533f","#e2e2e2","#6e9ed8","#7a5590"]},"legend":null},
   "stroke":{"field":"c","type":"nominal","scale":{"domain":["B pre","B prime","B boost","C pre","C prime","C boost"],"range":["#a8a8a8","#c24a33","#8f3426","#a8a8a8","#40689f","#4f3463"]},"legend":null}}},
 {"mark":{"type":"rule","strokeDash":[3,2],"color":"#333","strokeWidth":0.9},"encoding":{"y":{"datum":60,"type":"quantitative","scale":{"domain":[0,100]}}}},
 {"mark":{"type":"rule","strokeDash":[1,1.5],"color":"#777","strokeWidth":0.7},"encoding":{"y":{"datum":40,"type":"quantitative","scale":{"domain":[0,100]}}}},
 {"data":{"name":"med"},"transform":[{"filter":"datum.p=='C'"}],"mark":{"type":"tick","size":20,"thickness":1.8,"color":"#000"},
  "encoding":{"x":{"field":"c","type":"nominal","scale":{"domain":["B prime","B boost","C prime","C boost"]}},"y":{"field":"v","type":"quantitative","scale":{"domain":[0,100]}}}},
 {"data":{"name":"brk"},"transform":[{"filter":"datum.p=='C'"}],"mark":{"type":"rule","color":"#444","strokeWidth":0.9},
  "encoding":{"x":{"field":"a","type":"nominal","scale":{"domain":["B prime","B boost","C prime","C boost"]}},"x2":{"field":"b"},"y":{"field":"y","type":"quantitative","scale":{"domain":[0,100]}}}},
 {"data":{"name":"brk"},"transform":[{"filter":"datum.p=='C'"}],"mark":{"type":"rule","color":"#444","strokeWidth":0.9},
  "encoding":{"x":{"field":"a","type":"nominal","scale":{"domain":["B prime","B boost","C prime","C boost"]}},"y":{"field":"y","type":"quantitative","scale":{"domain":[0,100]}},"y2":{"field":"ya"}}},
 {"data":{"name":"brk"},"transform":[{"filter":"datum.p=='C'"}],"mark":{"type":"rule","color":"#444","strokeWidth":0.9},
  "encoding":{"x":{"field":"b","type":"nominal","scale":{"domain":["B prime","B boost","C prime","C boost"]}},"y":{"field":"y","type":"quantitative","scale":{"domain":[0,100]}},"y2":{"field":"yb"}}},
 {"data":{"name":"brk"},"transform":[{"filter":"datum.p=='C' && datum.t=='****'"}],"mark":{"type":"text","dx":15,"dy":3,"fontSize":9,"fontWeight":"bold","baseline":"alphabetic","color":"#111"},
  "encoding":{"x":{"field":"m","type":"nominal","scale":{"domain":["B prime","B boost","C prime","C boost"]}},"y":{"field":"y","type":"quantitative","scale":{"domain":[0,100]}},"text":{"field":"t"}}},
 {"data":{"name":"brk"},"transform":[{"filter":"datum.p=='C' && datum.t=='*'"}],"mark":{"type":"text","dy":3,"fontSize":9,"fontWeight":"bold","baseline":"alphabetic","color":"#111"},
  "encoding":{"x":{"field":"m","type":"nominal","scale":{"domain":["B prime","B boost","C prime","C boost"]}},"y":{"field":"y","type":"quantitative","scale":{"domain":[0,100]}},"text":{"field":"t"}}},
 {"data":{"name":"brk"},"transform":[{"filter":"datum.p=='C' && datum.t=='ns'"}],"mark":{"type":"text","dy":-2,"fontSize":6,"baseline":"alphabetic","color":"#333"},
  "encoding":{"x":{"field":"m","type":"nominal","scale":{"domain":["B prime","B boost","C prime","C boost"]}},"y":{"field":"y","type":"quantitative","scale":{"domain":[0,100]}},"text":{"field":"t"}}},
 {"data":{"name":"pct"},"transform":[{"filter":"datum.p=='C'"}],"mark":{"type":"text","dx":11,"dy":-2,"fontSize":5,"baseline":"middle","color":"#333"},
  "encoding":{"x":{"field":"c","type":"nominal","scale":{"domain":["B prime","B boost","C prime","C boost"]}},"y":{"datum":60,"type":"quantitative","scale":{"domain":[0,100]}},"text":{"field":"t"}}},
 {"mark":{"type":"text","text":"high avidity","dx":16,"dy":1.5,"align":"right","baseline":"top","fontSize":4.5,"color":"#333"},
  "encoding":{"x":{"datum":"C boost","type":"nominal","scale":{"domain":["B prime","B boost","C prime","C boost"]}},"y":{"datum":60,"type":"quantitative","scale":{"domain":[0,100]}}}},
 {"mark":{"type":"text","text":"equivocal","dx":16,"dy":1.5,"align":"right","baseline":"top","fontSize":4.5,"color":"#333"},
  "encoding":{"x":{"datum":"C boost","type":"nominal","scale":{"domain":["B prime","B boost","C prime","C boost"]}},"y":{"datum":40,"type":"quantitative","scale":{"domain":[0,100]}}}},
 {"data":{"name":"grp"},"transform":[{"filter":"datum.p=='C'"}],"mark":{"type":"rule","xOffset":-15,"x2Offset":12,"strokeWidth":1.3,"color":"#333"},
  "encoding":{"x":{"field":"a","type":"nominal","scale":{"domain":["B prime","B boost","C prime","C boost"]}},"x2":{"field":"b"},"y":{"datum":-17,"type":"quantitative","scale":{"domain":[0,100]}}}},
 {"data":{"name":"grp"},"transform":[{"filter":"datum.p=='C'"}],"mark":{"type":"text","dx":15,"fontSize":6.5,"baseline":"top","color":"#111"},
  "encoding":{"x":{"field":"m","type":"nominal","scale":{"domain":["B prime","B boost","C prime","C boost"]}},"y":{"datum":-21,"type":"quantitative","scale":{"domain":[0,100]}},"text":{"field":"t"}}}
 ]},
{"width":127,"height":71,"title":{"text":"sVNT","dx":-16,"dy":23},
 "layer":[
 {"data":{"name":"pts"},"transform":[{"filter":"datum.p=='D'"},{"window":[{"op":"row_number","as":"i"}],"groupby":["c"]}],
  "mark":{"type":"circle","size":18,"opacity":0.9,"strokeWidth":0.5},
  "encoding":{
   "x":{"field":"c","type":"nominal","scale":{"domain":["B prime","B boost","C prime","C boost"],"paddingInner":0,"paddingOuter":0.125,"align":1},"axis":{"labelExpr":"slice(datum.label,2)","title":"D","titleX":-33,"titleY":-138}},
   "xOffset":{"field":"i","type":"quantitative","scale":{"domain":[-1,32]}},
   "y":{"field":"v","type":"quantitative","scale":{"domain":[0,100]},"axis":{"values":[0,20,40,60,80,100],"title":["ACE2/RBD binding","inhibition [%]"]}},
   "fill":{"field":"c","type":"nominal","scale":{"domain":["B pre","B prime","B boost","C pre","C prime","C boost"],"range":["#e2e2e2","#e8785f","#c4533f","#e2e2e2","#6e9ed8","#7a5590"]},"legend":null},
   "stroke":{"field":"c","type":"nominal","scale":{"domain":["B pre","B prime","B boost","C pre","C prime","C boost"],"range":["#a8a8a8","#c24a33","#8f3426","#a8a8a8","#40689f","#4f3463"]},"legend":null}}},
 {"mark":{"type":"rule","strokeDash":[1,1.5],"color":"#555","strokeWidth":0.7},"encoding":{"y":{"datum":30,"type":"quantitative","scale":{"domain":[0,100]}}}},
 {"data":{"name":"med"},"transform":[{"filter":"datum.p=='D'"}],"mark":{"type":"tick","size":20,"thickness":1.8,"color":"#000"},
  "encoding":{"x":{"field":"c","type":"nominal","scale":{"domain":["B prime","B boost","C prime","C boost"]}},"y":{"field":"v","type":"quantitative","scale":{"domain":[0,100]}}}},
 {"data":{"name":"brk"},"transform":[{"filter":"datum.p=='D'"}],"mark":{"type":"rule","color":"#444","strokeWidth":0.9},
  "encoding":{"x":{"field":"a","type":"nominal","scale":{"domain":["B prime","B boost","C prime","C boost"]}},"x2":{"field":"b"},"y":{"field":"y","type":"quantitative","scale":{"domain":[0,100]}}}},
 {"data":{"name":"brk"},"transform":[{"filter":"datum.p=='D'"}],"mark":{"type":"rule","color":"#444","strokeWidth":0.9},
  "encoding":{"x":{"field":"a","type":"nominal","scale":{"domain":["B prime","B boost","C prime","C boost"]}},"y":{"field":"y","type":"quantitative","scale":{"domain":[0,100]}},"y2":{"field":"ya"}}},
 {"data":{"name":"brk"},"transform":[{"filter":"datum.p=='D'"}],"mark":{"type":"rule","color":"#444","strokeWidth":0.9},
  "encoding":{"x":{"field":"b","type":"nominal","scale":{"domain":["B prime","B boost","C prime","C boost"]}},"y":{"field":"y","type":"quantitative","scale":{"domain":[0,100]}},"y2":{"field":"yb"}}},
 {"data":{"name":"brk"},"transform":[{"filter":"datum.p=='D' && datum.t=='****'"}],"mark":{"type":"text","dx":15,"dy":3,"fontSize":9,"fontWeight":"bold","baseline":"alphabetic","color":"#111"},
  "encoding":{"x":{"field":"m","type":"nominal","scale":{"domain":["B prime","B boost","C prime","C boost"]}},"y":{"field":"y","type":"quantitative","scale":{"domain":[0,100]}},"text":{"field":"t"}}},
 {"data":{"name":"brk"},"transform":[{"filter":"datum.p=='D' && datum.t=='ns'"}],"mark":{"type":"text","dy":-2,"fontSize":6,"baseline":"alphabetic","color":"#333"},
  "encoding":{"x":{"field":"m","type":"nominal","scale":{"domain":["B prime","B boost","C prime","C boost"]}},"y":{"field":"y","type":"quantitative","scale":{"domain":[0,100]}},"text":{"field":"t"}}},
 {"data":{"name":"pct"},"transform":[{"filter":"datum.p=='D'"}],"mark":{"type":"text","dx":14,"dy":-2,"fontSize":5,"baseline":"middle","color":"#333"},
  "encoding":{"x":{"field":"c","type":"nominal","scale":{"domain":["B prime","B boost","C prime","C boost"]}},"y":{"datum":30,"type":"quantitative","scale":{"domain":[0,100]}},"text":{"field":"t"}}},
 {"mark":{"type":"text","text":"cutoff","dx":20,"dy":1.5,"align":"right","baseline":"top","fontSize":4.5,"color":"#333"},
  "encoding":{"x":{"datum":"C boost","type":"nominal","scale":{"domain":["B prime","B boost","C prime","C boost"]}},"y":{"datum":30,"type":"quantitative","scale":{"domain":[0,100]}}}},
 {"data":{"name":"grp"},"transform":[{"filter":"datum.p=='D'"}],"mark":{"type":"rule","xOffset":-10,"x2Offset":10,"strokeWidth":1.3,"color":"#333"},
  "encoding":{"x":{"field":"a","type":"nominal","scale":{"domain":["B prime","B boost","C prime","C boost"]}},"x2":{"field":"b"},"y":{"datum":-17,"type":"quantitative","scale":{"domain":[0,100]}}}},
 {"data":{"name":"grp"},"transform":[{"filter":"datum.p=='D'"}],"mark":{"type":"text","dx":15,"fontSize":6.5,"baseline":"top","color":"#111"},
  "encoding":{"x":{"field":"m","type":"nominal","scale":{"domain":["B prime","B boost","C prime","C boost"]}},"y":{"datum":-21,"type":"quantitative","scale":{"domain":[0,100]}},"text":{"field":"t"}}}
 ]},
{"width":104,"height":71,"title":{"text":"IGRA","dx":-5,"dy":21},
 "layer":[
 {"data":{"name":"pts"},"transform":[{"filter":"datum.p=='E'"},{"window":[{"op":"row_number","as":"i"}],"groupby":["c"]}],
  "mark":{"type":"circle","size":18,"opacity":0.9,"strokeWidth":0.5},
  "encoding":{
   "x":{"field":"c","type":"nominal","scale":{"domain":["B boost","C prime","C boost"],"paddingInner":0,"paddingOuter":0},"axis":{"labelExpr":"slice(datum.label,2)","title":"E","titleX":-35,"titleY":-138}},
   "xOffset":{"field":"i","type":"quantitative","scale":{"domain":[-1,32]}},
   "y":{"field":"v","type":"quantitative","scale":{"domain":[0,3.5]},"axis":{"values":[0,0.5,1,1.5,2,2.5,3,3.5],"format":".1f","labelExpr":"datum.value>=3.5?'≥3.5':datum.label","title":"IFN-γ [AU]"}},
   "fill":{"field":"c","type":"nominal","scale":{"domain":["B pre","B prime","B boost","C pre","C prime","C boost"],"range":["#e2e2e2","#e8785f","#c4533f","#e2e2e2","#6e9ed8","#7a5590"]},"legend":null},
   "stroke":{"field":"c","type":"nominal","scale":{"domain":["B pre","B prime","B boost","C pre","C prime","C boost"],"range":["#a8a8a8","#c24a33","#8f3426","#a8a8a8","#40689f","#4f3463"]},"legend":null}}},
 {"data":{"name":"med"},"transform":[{"filter":"datum.p=='E'"}],"mark":{"type":"tick","size":20,"thickness":1.8,"color":"#000"},
  "encoding":{"x":{"field":"c","type":"nominal","scale":{"domain":["B boost","C prime","C boost"]}},"y":{"field":"v","type":"quantitative","scale":{"domain":[0,3.5]}}}},
 {"data":{"name":"brk"},"transform":[{"filter":"datum.p=='E'"}],"mark":{"type":"rule","color":"#444","strokeWidth":0.9},
  "encoding":{"x":{"field":"a","type":"nominal","scale":{"domain":["B boost","C prime","C boost"]}},"x2":{"field":"b"},"y":{"field":"y","type":"quantitative","scale":{"domain":[0,3.5]}}}},
 {"data":{"name":"brk"},"transform":[{"filter":"datum.p=='E'"}],"mark":{"type":"rule","color":"#444","strokeWidth":0.9},
  "encoding":{"x":{"field":"a","type":"nominal","scale":{"domain":["B boost","C prime","C boost"]}},"y":{"field":"y","type":"quantitative","scale":{"domain":[0,3.5]}},"y2":{"field":"ya"}}},
 {"data":{"name":"brk"},"transform":[{"filter":"datum.p=='E'"}],"mark":{"type":"rule","color":"#444","strokeWidth":0.9},
  "encoding":{"x":{"field":"b","type":"nominal","scale":{"domain":["B boost","C prime","C boost"]}},"y":{"field":"y","type":"quantitative","scale":{"domain":[0,3.5]}},"y2":{"field":"yb"}}},
 {"data":{"name":"brk"},"transform":[{"filter":"datum.p=='E' && datum.t=='****'"}],"mark":{"type":"text","dx":17,"dy":3,"fontSize":9,"fontWeight":"bold","baseline":"alphabetic","color":"#111"},
  "encoding":{"x":{"field":"m","type":"nominal","scale":{"domain":["B boost","C prime","C boost"]}},"y":{"field":"y","type":"quantitative","scale":{"domain":[0,3.5]}},"text":{"field":"t"}}},
 {"data":{"name":"brk"},"transform":[{"filter":"datum.p=='E' && datum.t=='*'"}],"mark":{"type":"text","dy":3,"fontSize":9,"fontWeight":"bold","baseline":"alphabetic","color":"#111"},
  "encoding":{"x":{"field":"m","type":"nominal","scale":{"domain":["B boost","C prime","C boost"]}},"y":{"field":"y","type":"quantitative","scale":{"domain":[0,3.5]}},"text":{"field":"t"}}},
 {"data":{"name":"grp"},"transform":[{"filter":"datum.p=='E'"}],"mark":{"type":"rule","xOffset":-12,"x2Offset":16,"strokeWidth":1.3,"color":"#333"},
  "encoding":{"x":{"field":"a","type":"nominal","scale":{"domain":["B boost","C prime","C boost"]}},"x2":{"field":"b"},"y":{"datum":-0.59,"type":"quantitative","scale":{"domain":[0,3.5]}}}},
 {"data":{"name":"grp"},"transform":[{"filter":"datum.p=='E' && datum.t=='BNT/BNT'"}],"mark":{"type":"text","fontSize":6.5,"baseline":"top","color":"#111"},
  "encoding":{"x":{"field":"m","type":"nominal","scale":{"domain":["B boost","C prime","C boost"]}},"y":{"datum":-0.74,"type":"quantitative","scale":{"domain":[0,3.5]}},"text":{"field":"t"}}},
 {"data":{"name":"grp"},"transform":[{"filter":"datum.p=='E' && datum.t!='BNT/BNT'"}],"mark":{"type":"text","dx":17,"fontSize":6.5,"baseline":"top","color":"#111"},
  "encoding":{"x":{"field":"m","type":"nominal","scale":{"domain":["B boost","C prime","C boost"]}},"y":{"datum":-0.74,"type":"quantitative","scale":{"domain":[0,3.5]}},"text":{"field":"t"}}}
 ]}
],"spacing":55,"bounds":"flush"}
],
"spacing":200.5,
"bounds":"flush"
}
